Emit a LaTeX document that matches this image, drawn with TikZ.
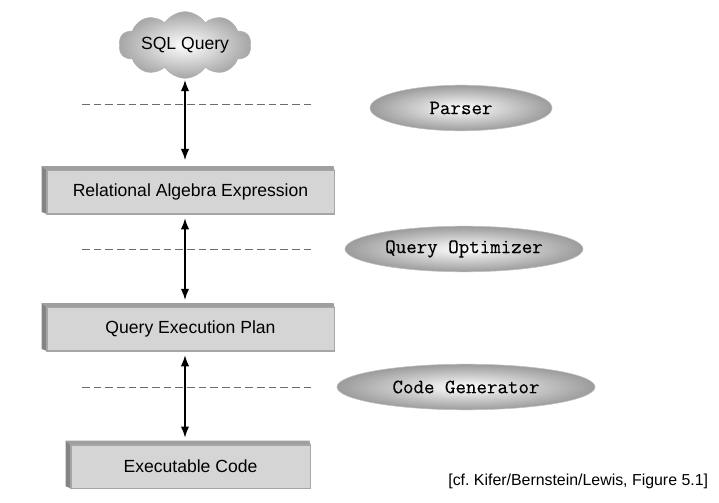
\documentclass[tikz,border=0pt]{standalone}
\usepackage{fontspec}
\setmainfont{Liberation Sans}
\newfontfamily\tooltt[FakeBold=0.25]{Latin Modern Mono}
\usepackage{tikz}
\usetikzlibrary{shapes.geometric,shapes.symbols,arrows.meta,positioning,calc}
\frenchspacing

\begin{document}
\begin{tikzpicture}[
  x=0.025cm, y=-0.025cm,
  every node/.style={font=\fontsize{12.5}{15}\selectfont},
  stage/.style={rectangle, draw=gray!70, fill=gray!33, line width=0.5pt, inner sep=0pt, minimum height=1.08cm},
  tool/.style={ellipse, draw=gray!50, line width=0.4pt, shading=radial, inner color=white, outer color=gray!78,
    minimum height=1.14cm, inner sep=0pt, font=\tooltt\fontsize{14.5}{16}\selectfont},
  sep/.style={dashed, dash pattern=on 5.5pt off 2.8pt, gray!85!black, line width=0.6pt},
  arr/.style={{Latex[length=2.8mm,width=2.1mm]}-{Latex[length=2.8mm,width=2.1mm]}, line width=1.1pt, black},
]
\useasboundingbox (0,0) rectangle (719,503);

% query and the three stages
\node[cloud, cloud puffs=10, cloud puff arc=115, aspect=2.6, draw=gray!60, shading=radial, inner color=white, outer color=gray!70,
  minimum width=3.3cm, minimum height=1.25cm, inner sep=0pt] (sql) at (185,45) {SQL Query};
\node[stage, minimum width=7.18cm] (rel) at (190.5,192) {Relational Algebra Expression};
\node[stage, minimum width=7.18cm] (plan) at (190.5,329) {Query Execution Plan};
\node[stage, minimum width=5.98cm, minimum height=1.07cm] (exec) at (190.5,466.5) {Executable Code};

% raised edges of the stages
\foreach \b in {rel,plan,exec} {
  \fill[gray!75] (\b.north west) -- ++(-5,-4) -- ($(\b.north east)+(-1,-4)$) -- (\b.north east) -- cycle;
  \fill[gray!62!black!70] (\b.north west) -- ++(-5,-4) -- ($(\b.south west)+(-5,-2)$) -- (\b.south west) -- cycle;
  \draw[gray!70, line width=0.5pt] (\b.north west) rectangle (\b.south east);
}

% components
\node[tool, minimum width=4.55cm] (parser) at (461,108) {Parser};
\node[tool, minimum width=5.95cm] (optimizer) at (464,249) {Query Optimizer};
\node[tool, minimum width=6.45cm] (codegen) at (466,387) {Code Generator};

% separators
\coordinate (s1a) at (82,104);  \coordinate (s1b) at (313,104);
\coordinate (s2a) at (82,249);  \coordinate (s2b) at (313,249);
\coordinate (s3a) at (82,387);  \coordinate (s3b) at (313,387);
\draw[sep] (s1a) -- (s1b);
\draw[sep] (s2a) -- (s2b);
\draw[sep] (s3a) -- (s3b);

\draw[arr, shorten <=1pt, shorten >=7pt] (sql.south) -- (sql.south |- rel.north);
\draw[arr, shorten <=3pt, shorten >=5pt] (rel.south -| sql.south) -- (plan.north -| sql.south);
\draw[arr, shorten <=3pt, shorten >=5pt] (plan.south -| sql.south) -- (exec.north -| sql.south);

\node[anchor=east, font=\fontsize{11.3}{13}\selectfont] (cite) at (713,481) {[cf. Kifer/Bernstein/Lewis, Figure 5.1]};

\end{tikzpicture}
\end{document}
